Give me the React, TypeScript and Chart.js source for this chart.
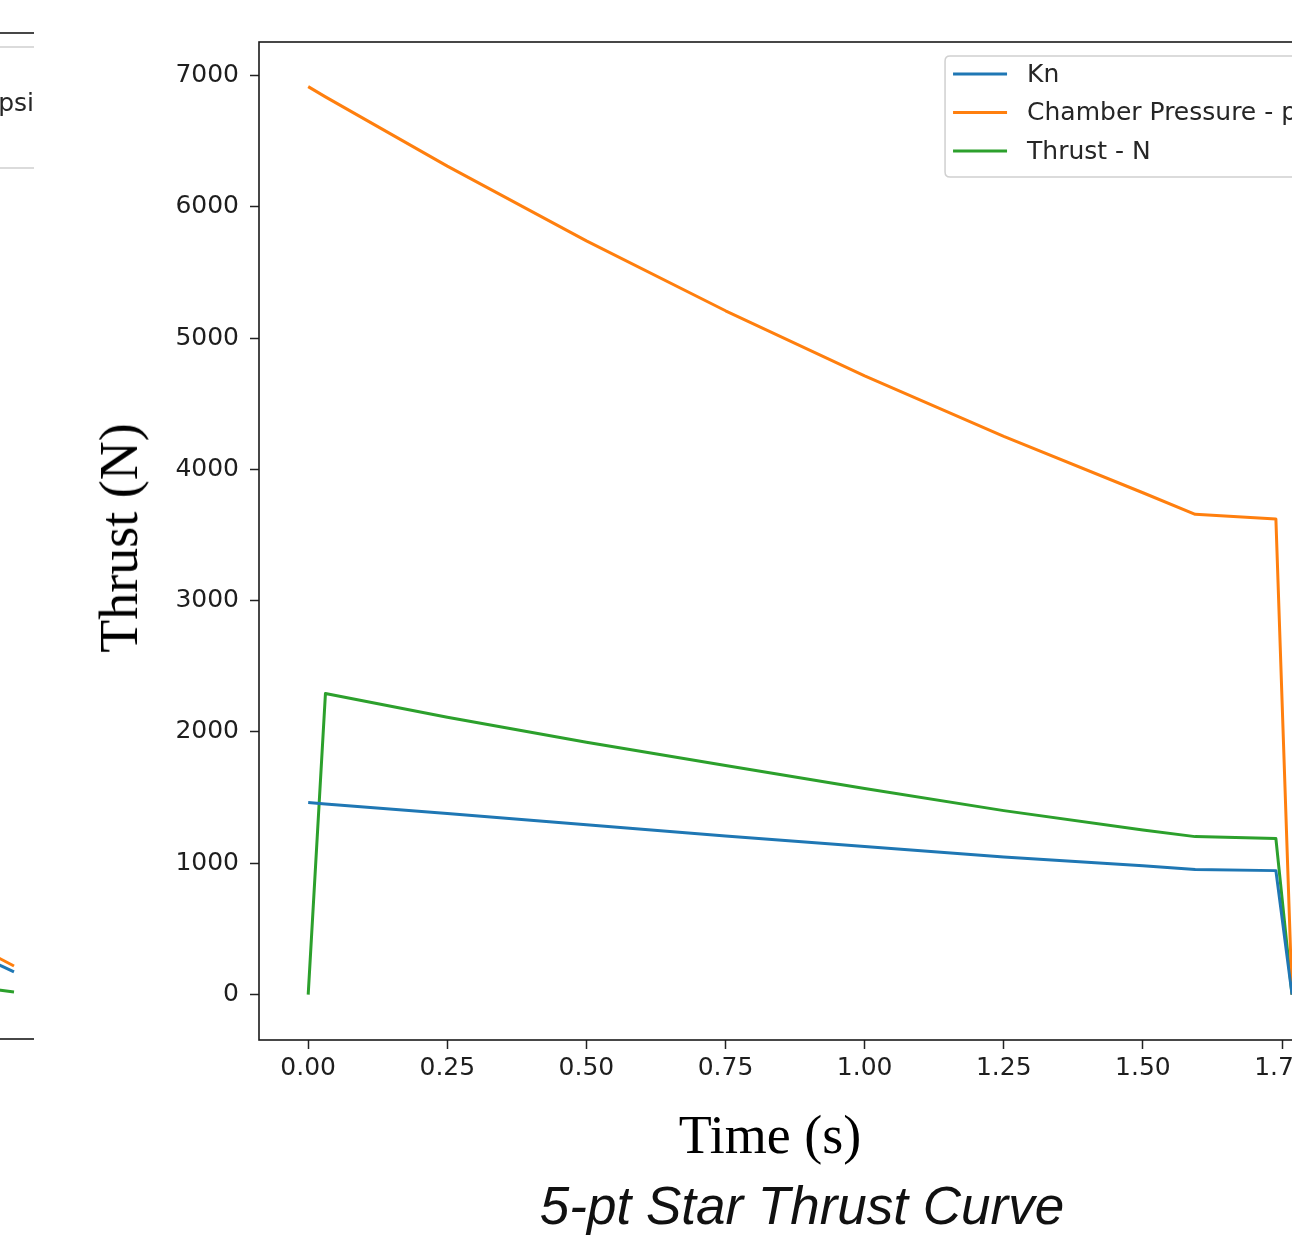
import React, { useEffect, useRef } from "react";
import { Chart, registerables } from "chart.js";

Chart.register(...registerables);

// ---------------- data ----------------
const timeSeconds = [0, 0.031, 0.25, 0.5, 0.75, 1.0, 1.25, 1.5, 1.594, 1.739, 1.768];
const knValues = [1462, 1452, 1379, 1293, 1208, 1127, 1047, 981, 952, 944, 0];
const chamberPressurePsi = [6915, 6837, 6310, 5740, 5208, 4712, 4252, 3822, 3658, 3622, 0];
const thrustNewtons = [0, 2293, 2112, 1922, 1744, 1569, 1401, 1253, 1203, 1188, 0];
const seriesLabels = ["Kn", "Chamber Pressure - psi", "Thrust - N"];
const xTickValues = [0, 0.25, 0.5, 0.75, 1.0, 1.25, 1.5, 1.75];
const yTickValues = [0, 1000, 2000, 3000, 4000, 5000, 6000, 7000];

// neighbouring chart: only its right-hand tail is visible at the left edge
const neighbourTime = [0.895, 0.945];
const neighbourKn = [304, 161];
const neighbourPressure = [365, 206];
const neighbourThrust = [49, 9];

const seriesColors = ["#1f77b4", "#ff7f0e", "#2ca02c"];

// ---------------- helpers ----------------
const toPoints = (xs: number[], ys: number[]) => xs.map((x, i) => ({ x, y: ys[i] }));

const FONT = "'DejaVu Sans', 'Noto Sans', sans-serif";

const spinesPlugin = {
  id: "spines",
  afterDraw(chart: any) {
    const { ctx, chartArea } = chart;
    ctx.save();
    ctx.strokeStyle = "#1a1a1a";
    ctx.lineWidth = 1.6;
    ctx.strokeRect(chartArea.left, chartArea.top, chartArea.right - chartArea.left, chartArea.bottom - chartArea.top);
    ctx.restore();
  },
};

const boxLegendPlugin = {
  id: "boxLegend",
  afterDraw(chart: any) {
    const { ctx, chartArea } = chart;
    const datasets = chart.data.datasets;
    ctx.save();
    ctx.font = `25px ${FONT}`;
    const maxW = Math.max(...datasets.map((d: any) => ctx.measureText(d.label).width));
    const right = chartArea.right - 14;
    const left = right - 10 - maxW - 82;
    const top = chartArea.top + 14;
    const rowH = 38.5;
    const bottom = top + 18 + 2 * rowH + 26;
    const r = 5;
    ctx.beginPath();
    ctx.moveTo(left + r, top);
    ctx.lineTo(right - r, top);
    ctx.quadraticCurveTo(right, top, right, top + r);
    ctx.lineTo(right, bottom - r);
    ctx.quadraticCurveTo(right, bottom, right - r, bottom);
    ctx.lineTo(left + r, bottom);
    ctx.quadraticCurveTo(left, bottom, left, bottom - r);
    ctx.lineTo(left, top + r);
    ctx.quadraticCurveTo(left, top, left + r, top);
    ctx.closePath();
    ctx.fillStyle = "rgba(255,255,255,0.85)";
    ctx.fill();
    ctx.strokeStyle = "#d0d0d0";
    ctx.lineWidth = 1.5;
    ctx.stroke();
    datasets.forEach((d: any, i: number) => {
      const y = top + 18 + i * rowH;
      ctx.beginPath();
      ctx.moveTo(left + 8, y);
      ctx.lineTo(left + 62, y);
      ctx.strokeStyle = d.borderColor;
      ctx.lineWidth = 3;
      ctx.stroke();
      ctx.fillStyle = "#262626";
      ctx.textBaseline = "middle";
      ctx.textAlign = "left";
      ctx.fillText(d.label, left + 82, y + 1);
    });
    ctx.restore();
  },
};

const makeDatasets = (time: number[], series: number[][]) =>
  series.map((vals, i) => ({
    label: seriesLabels[i],
    data: toPoints(time, vals),
    borderColor: seriesColors[i],
    backgroundColor: seriesColors[i],
    borderWidth: 3,
    pointRadius: 0,
    tension: 0,
    fill: false,
    borderJoinStyle: "round" as const,
    borderCapStyle: "butt" as const,
  }));

function mainConfig(): any {
  return {
    type: "line",
    data: { datasets: makeDatasets(timeSeconds, [knValues, chamberPressurePsi, thrustNewtons]) },
    options: {
      responsive: false,
      animation: false,
      layout: { padding: { top: 42, right: 59, bottom: 0, left: 0 } },
      plugins: { legend: { display: false }, tooltip: { enabled: false } },
      scales: {
        x: {
          type: "linear",
          min: -0.0884,
          max: 1.856,
          afterBuildTicks: (s: any) => {
            s.ticks = xTickValues.map((v) => ({ value: v }));
          },
          afterFit: (s: any) => {
            s.height = 195;
          },
          grid: { display: true, drawOnChartArea: false, drawTicks: true, tickLength: 9, tickWidth: 1.5, tickColor: "#222" },
          border: { display: false },
          ticks: {
            font: { family: FONT, size: 25 },
            color: "#1e1e1e",
            padding: 4,
            maxRotation: 0,
            autoSkip: false,
            callback: (v: any) => Number(v).toFixed(2),
          },
        },
        y: {
          type: "linear",
          min: -346,
          max: 7255,
          afterBuildTicks: (s: any) => {
            s.ticks = yTickValues.map((v) => ({ value: v }));
          },
          afterFit: (s: any) => {
            s.width = 259;
          },
          grid: { display: true, drawOnChartArea: false, drawTicks: true, tickLength: 9, tickWidth: 1.5, tickColor: "#222" },
          border: { display: false },
          ticks: {
            font: { family: FONT, size: 25 },
            color: "#1e1e1e",
            padding: 11,
            autoSkip: false,
            callback: (v: any) => String(v),
          },
        },
      },
    },
    plugins: [spinesPlugin, boxLegendPlugin],
  };
}

function neighbourConfig(): any {
  return {
    type: "line",
    data: { datasets: makeDatasets(neighbourTime, [neighbourKn, neighbourPressure, neighbourThrust]) },
    options: {
      responsive: false,
      animation: false,
      layout: { padding: { top: 33, right: 0, bottom: 196, left: 0 } },
      plugins: { legend: { display: false }, tooltip: { enabled: false } },
      scales: {
        x: { type: "linear", min: 0, max: 1, display: false },
        y: { type: "linear", min: -346, max: 7261, display: false },
      },
    },
    plugins: [spinesPlugin, boxLegendPlugin],
  };
}

export default function App() {
  const mainRef = useRef<HTMLCanvasElement>(null);
  const sideRef = useRef<HTMLCanvasElement>(null);

  useEffect(() => {
    const main = new Chart(mainRef.current as HTMLCanvasElement, mainConfig());
    const side = new Chart(sideRef.current as HTMLCanvasElement, neighbourConfig());
    return () => {
      main.destroy();
      side.destroy();
    };
  }, []);

  return (
    <div
      style={{
        position: "absolute",
        left: 0,
        top: 0,
        width: 1292,
        height: 1235,
        overflow: "hidden",
        background: "#ffffff",
      }}
    >
      <canvas ref={mainRef} width={1400} height={1235} style={{ position: "absolute", left: 0, top: 0 }} />
      <div style={{ position: "absolute", left: 0, top: 0, width: 34, height: 1235, overflow: "hidden" }}>
        <canvas ref={sideRef} width={800} height={1235} style={{ position: "absolute", left: -742, top: 0 }} />
      </div>
      <div
        style={{
          position: "absolute",
          left: 119,
          top: 538,
          transform: "translate(-50%, -50%) rotate(-90deg)",
          fontFamily: "'Liberation Serif', 'Times New Roman', serif",
          fontSize: 54,
          lineHeight: "54px",
          whiteSpace: "nowrap",
          color: "#000",
        }}
      >
        Thrust (N)
      </div>
      <div
        style={{
          position: "absolute",
          left: 770,
          top: 1108,
          transform: "translateX(-50%)",
          fontFamily: "'Liberation Serif', 'Times New Roman', serif",
          fontSize: 54,
          lineHeight: "54px",
          whiteSpace: "nowrap",
          color: "#000",
        }}
      >
        Time (s)
      </div>
      <div
        style={{
          position: "absolute",
          left: 802,
          top: 1179,
          transform: "translateX(-50%)",
          fontFamily: "'Liberation Sans', Arial, sans-serif",
          fontStyle: "italic",
          fontSize: 53,
          lineHeight: "53px",
          whiteSpace: "nowrap",
          color: "#111",
        }}
      >
        5-pt Star Thrust Curve
      </div>
    </div>
  );
}
